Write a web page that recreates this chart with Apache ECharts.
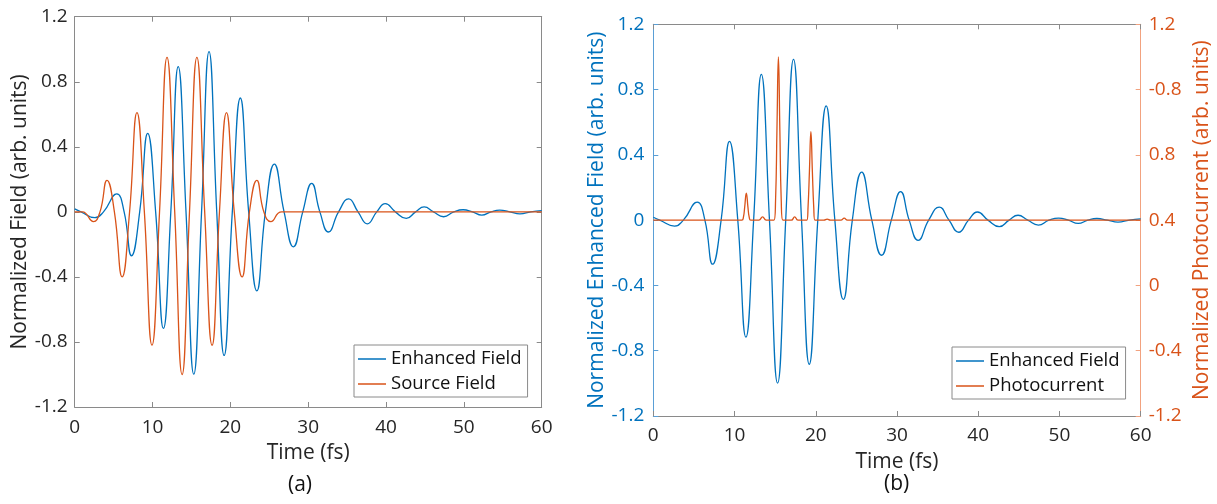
<!DOCTYPE html>
<html><head><meta charset="utf-8">
<script src="https://cdn.jsdelivr.net/npm/echarts@6/dist/echarts.min.js"></script>
<style>html,body{margin:0;padding:0;background:#fff}#c{width:1217px;height:504px}</style>
</head><body><div id="c"></div>
<script>
// ---- data ----
const enhancedT = [0, 0.8, 2.6, 3.7, 5.4, 6.35, 7.3, 8.35, 9.38, 10.4, 11.4, 12.35, 13.3, 14.3, 15.3, 16.3, 17.26, 18.25, 19.2, 20.25, 21.28, 22.35, 23.4, 24.5, 25.65, 26.9, 28.1, 29.3, 30.45, 31.5, 32.6, 33.9, 35.2, 36.4, 37.6, 38.8, 39.9, 41.2, 42.6, 43.8, 44.9, 46.1, 47.4, 48.7, 49.9, 51.1, 52.3, 53.5, 54.6, 55.9, 57.2, 58.6, 60];
const enhancedV = [0.018, 0, -0.036, 0, 0.11, 0, -0.27, 0, 0.483, 0, -0.717, 0, 0.893, 0, -0.998, 0, 0.985, 0, -0.883, 0, 0.70, 0, -0.486, 0, 0.294, 0, -0.215, 0, 0.175, 0, -0.124, 0, 0.08, 0, -0.074, 0, 0.05, 0, -0.04, 0, 0.03, 0, -0.03, 0, 0.013, 0, -0.02, 0, 0.01, 0, -0.012, 0, 0.008];
const sourceT = [0, 1.0, 2.4, 3.25, 4.15, 5.1, 6.1, 7.05, 8.0, 8.95, 9.93, 10.9, 11.86, 12.85, 13.8, 14.75, 15.7, 16.7, 17.65, 18.6, 19.5, 20.5, 21.5, 22.45, 23.4, 24.3, 25.2, 26.6, 60];
const sourceV = [0, 0, -0.06, 0, 0.194, 0, -0.40, 0, 0.61, 0, -0.82, 0, 0.95, 0, -1.0, 0, 0.95, 0, -0.82, 0, 0.61, 0, -0.40, 0, 0.194, 0, -0.06, 0, 0];
const photoT = [0, 10.9, 11.1, 11.25, 11.45, 11.65, 11.8, 12.0, 13.0, 13.45, 13.9, 14.85, 15.05, 15.22, 15.4, 15.58, 15.75, 15.95, 17.0, 17.4, 17.8, 18.9, 19.05, 19.22, 19.4, 19.58, 19.75, 19.9, 21.0, 21.4, 21.8, 23.1, 23.5, 23.9, 60];
const photoV = [0, 0, 0.02, 0.08, 0.165, 0.08, 0.02, 0, 0, 0.02, 0, 0, 0.12, 0.55, 1.0, 0.55, 0.12, 0, 0, 0.02, 0, 0, 0.08, 0.3, 0.542, 0.3, 0.08, 0, 0, 0.006, 0, 0, 0.012, 0, 0];
const leftYTickLabels = ['-1.2', '-0.8', '-0.4', '0', '0.4', '0.8', '1.2'];
const rightYTickLabels = ['-1.2', '-0.4', '0', '0.4', '0.8', '-0.8', '1.2'];
const seriesNames = ['Enhanced Field', 'Source Field', 'Photocurrent'];
const panelLabels = ['(a)', '(b)'];
const xTitle = 'Time (fs)';
const yTitleA = 'Normalized Field (arb. units)';
const yTitleB1 = 'Normalized Enhanced Field (arb. units)';
const yTitleB2 = 'Normalized Photocurrent (arb. units)';

const zip = (t, v) => t.map((x, i) => [x, v[i]]);
const FONT = 'Open Sans';
const BLUE = '#0072BD', ORANGE = '#D95319', GRAY = '#8a8a8a', TXT = '#262626';

function xAx(grid, pos, show, margin) {
  return {
    type: 'value', gridIndex: grid, position: pos, min: 0, max: 60, interval: 10,
    axisLine: { show: true, onZero: false, lineStyle: { color: GRAY, width: 1 } },
    axisTick: { show: true, inside: true, length: 5, lineStyle: { color: GRAY } },
    splitLine: { show: false },
    axisLabel: { show: show, color: TXT, fontFamily: FONT, fontSize: 19, margin: margin },
    name: show ? xTitle : '', nameLocation: 'middle', nameGap: show ? 36 : 0,
    nameTextStyle: { color: TXT, fontFamily: FONT, fontSize: 21 }
  };
}
function yAx(grid, pos, show, labels, lineColor, labelColor, name, gap, margin) {
  return {
    type: 'value', gridIndex: grid, position: pos, min: -1.2, max: 1.2, interval: 0.4,
    axisLine: { show: true, onZero: false, lineStyle: { color: lineColor, width: 1 } },
    axisTick: { show: true, inside: true, length: 5, lineStyle: { color: lineColor } },
    splitLine: { show: false },
    axisLabel: { show: show, color: labelColor, fontFamily: FONT, fontSize: 19, margin: margin,
      formatter: (v, i) => labels ? labels[i] : '' },
    name: name || '', nameLocation: 'middle', nameGap: gap || 0, nameRotate: 90,
    nameTextStyle: { color: labelColor, fontFamily: FONT, fontSize: 21 }
  };
}
function legend(left, top, names) {
  return {
    data: names, orient: 'vertical', left: left, top: top,
    backgroundColor: '#fff', borderColor: GRAY, borderWidth: 1, borderRadius: 0,
    padding: [3, 6, 2, 4], itemGap: 3, itemWidth: 28, itemHeight: 1.5, icon: 'rect',
    textStyle: { color: '#111', fontFamily: FONT, fontSize: 18.5, lineHeight: 22 },
    selectedMode: false
  };
}

const chart = echarts.init(document.getElementById('c'), null, { renderer: 'canvas' });
chart.setOption({
  backgroundColor: '#fff',
  animation: false,
  grid: [
    { left: 74.7, top: 16.7, width: 467, height: 390.3, containLabel: false },
    { left: 653.3, top: 24.3, width: 487.4, height: 391.7, containLabel: false }
  ],
  xAxis: [
    xAx(0, 'bottom', true, 11), xAx(0, 'top', false, 0),
    xAx(1, 'bottom', true, 10), xAx(1, 'top', false, 0)
  ],
  yAxis: [
    yAx(0, 'left', true, leftYTickLabels, GRAY, TXT, yTitleA, 41, 7),
    yAx(0, 'right', false, null, GRAY, TXT),
    yAx(1, 'left', true, leftYTickLabels, '#5a9fd6', BLUE, yTitleB1, 39, 9),
    yAx(1, 'right', true, rightYTickLabels, '#f2a27f', ORANGE, yTitleB2, 51, 8)
  ],
  legend: [
    legend(354, 345, [seriesNames[0], seriesNames[1]]),
    legend(952, 347, [seriesNames[0], seriesNames[2]])
  ],
  series: [
    { name: seriesNames[0], type: 'line', xAxisIndex: 0, yAxisIndex: 0, data: zip(enhancedT, enhancedV),
      smooth: 0.5, showSymbol: false, lineStyle: { color: BLUE, width: 1.3 }, itemStyle: { color: BLUE } },
    { name: seriesNames[1], type: 'line', xAxisIndex: 0, yAxisIndex: 0, data: zip(sourceT, sourceV),
      smooth: 0.5, showSymbol: false, lineStyle: { color: ORANGE, width: 1.3 }, itemStyle: { color: ORANGE } },
    { name: seriesNames[0], type: 'line', xAxisIndex: 2, yAxisIndex: 2, data: zip(enhancedT, enhancedV),
      smooth: 0.5, showSymbol: false, lineStyle: { color: BLUE, width: 1.3 }, itemStyle: { color: BLUE } },
    { name: seriesNames[2], type: 'line', xAxisIndex: 2, yAxisIndex: 3, data: zip(photoT, photoV),
      smooth: 0.5, showSymbol: false, lineStyle: { color: ORANGE, width: 1.3 }, itemStyle: { color: ORANGE } }
  ],
  graphic: [
    { type: 'text', left: 288, top: 475, style: { text: panelLabels[0], fill: '#111', font: '21px "Open Sans"' } },
    { type: 'text', left: 884, top: 474, style: { text: panelLabels[1], fill: '#111', font: '21px "Open Sans"' } }
  ]
});
</script></body></html>
